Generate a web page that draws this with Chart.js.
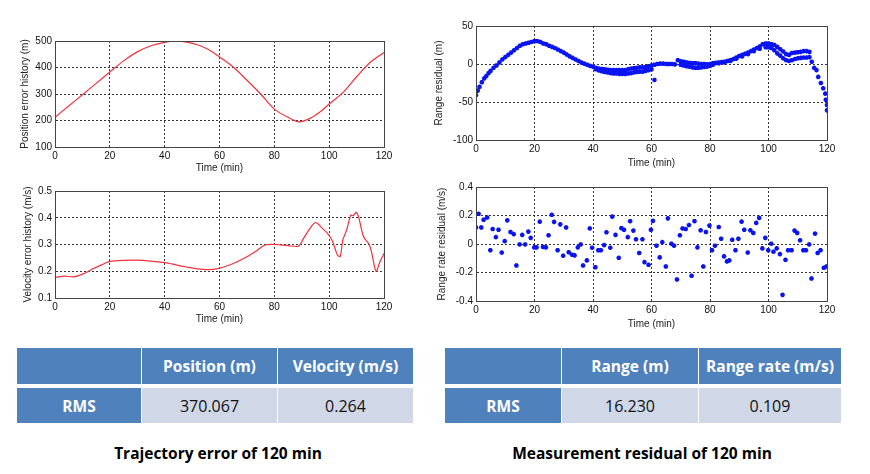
<!DOCTYPE html>
<html>
<head>
<meta charset="utf-8">
<script src="https://cdn.jsdelivr.net/npm/chart.js@4.4.0/dist/chart.umd.min.js"></script>
<style>
  body { margin: 0; background: #fff; width: 870px; height: 474px; position: relative; overflow: hidden; font-family: "Open Sans", "Noto Sans", sans-serif; }
  .plot { position: absolute; }
  .cell { position: absolute; display: flex; align-items: center; justify-content: center; }
  .hd { background: #4f81bd; color: #fff; font-weight: bold; font-size: 15.5px; }
  .dt { background: #d0d8e8; color: #111; font-size: 16px; }
  .cap { position: absolute; font-weight: bold; font-size: 15.5px; color: #000; text-align: center; }
</style>
</head>
<body>
<div class="plot" id="w1"><canvas id="c1"></canvas></div>
<div class="plot" id="w2"><canvas id="c2"></canvas></div>
<div class="plot" id="w3"><canvas id="c3"></canvas></div>
<div class="plot" id="w4"><canvas id="c4"></canvas></div>

<div id="t1"></div>
<div id="t2"></div>
<div class="cap" style="left:18px; width:400px; top:442px;">Trajectory error of 120 min</div>
<div class="cap" style="left:442px; width:400px; top:442px;">Measurement residual of 120 min</div>

<script>
// --- veriler ---
const xTicks = [0, 20, 40, 60, 80, 100, 120];

// konum hatası (m)
const posTime = [0, 5, 10, 15, 20, 25, 30, 35, 40, 44, 48, 52, 56, 60, 65, 70, 75, 80, 85, 89, 93, 97, 100, 105, 110, 115, 120];
const posErr  = [212, 255, 297, 340, 383, 425, 459, 482, 495, 500, 496, 486, 468, 440, 402, 352, 300, 243, 212, 195, 208, 235, 262, 305, 365, 420, 457];

// hız hatası (m/s)
const velTime = [0, 2, 3.6, 6.7, 10.3, 14, 17, 20, 25, 32, 40, 48, 54, 59, 65, 70, 74, 76.6, 80, 85, 88.8, 90.6, 93, 94.9, 96.1, 97.5, 99.4, 101, 102, 103, 104, 105, 106.4, 107.9, 108.8, 109.8, 110.7, 112.5, 114.6, 115.5, 117.1, 118.5, 119.8, 120];
const velErr  = [0.177, 0.18, 0.182, 0.179, 0.19, 0.21, 0.224, 0.237, 0.241, 0.241, 0.232, 0.216, 0.207, 0.209, 0.229, 0.254, 0.28, 0.298, 0.3, 0.296, 0.294, 0.322, 0.36, 0.382, 0.376, 0.36, 0.342, 0.317, 0.29, 0.261, 0.255, 0.317, 0.355, 0.41, 0.408, 0.42, 0.404, 0.33, 0.3, 0.27, 0.2, 0.235, 0.262, 0.267];

// mesafe artığı (m)
const rangeTime = [
  0, 0.6, 1.2, 2, 2.8, 3.5, 4.3, 5, 6, 7, 8, 9, 10, 11, 12, 13, 14, 15, 16, 17, 18, 19, 20,
  21, 22, 23, 24, 25, 26, 27, 28, 29, 30, 31, 32, 33, 34, 35, 36, 37, 38, 39, 40,
  41, 42, 43, 44, 45, 46, 47, 48, 49, 50, 51, 52, 53, 54, 55, 56, 57, 58, 59, 60,
  41, 42, 43, 44, 45, 46, 47, 48, 49, 50, 51, 52, 53, 54, 55, 56, 57, 58, 59, 60,
  61, 61, 62, 63, 64, 65, 66, 67, 68,
  69, 70, 71, 72, 73, 74, 75, 76, 77, 78, 79, 80,
  70, 71, 72, 73, 74, 75, 76, 77, 78, 79, 80,
  81, 82, 83, 84, 85, 86, 87, 88, 89, 90, 91, 92, 93, 94, 95, 96, 97, 98, 99, 100,
  101, 102, 103, 104, 105, 106, 107, 108, 109, 110, 111, 112, 113, 114,
  81, 83, 85, 87, 89, 91, 93, 95, 97, 99, 100, 101, 102, 103, 104, 105, 106, 107, 108, 109, 110, 111, 112, 113, 114,
  114.8, 115.6, 116.4, 117, 117.9, 118.7, 119.4, 119.6, 120, 120
];
const rangeRes = [
  -41, -35, -30, -24, -19, -16, -12, -9, -5, -2, 2, 6, 9, 12, 15, 18, 21, 24, 26, 27, 28, 29, 30,
  30, 29, 27, 26, 24, 22.5, 21, 19, 17, 15, 12.5, 10, 8, 6, 4, 2, 0.5, -1, -2.5, -3.5,
  -5, -6, -6.5, -7, -7.5, -8, -8, -8, -8, -8, -8, -7, -6, -5.5, -5, -4.5, -4.5, -4, -3, -2,
  -7, -8.5, -9.5, -10.5, -11, -12, -12.5, -12.5, -13, -13, -13, -12.5, -12, -11, -10.5, -10, -10, -9, -8, -7,
  -21, -1, 0, 0.5, 0.5, 0, 0, 0, -0.5,
  5, 3.5, 3, 2, 1.5, 1, 1, 0.5, 0, 0, -0.5, 0,
  -1, -2, -3, -3.5, -4.5, -5, -5, -4.5, -4, -3.5, -2.5,
  1, 1.5, 2, 2.5, 3, 4, 5, 6.5, 8.5, 10.5, 12, 13.5, 15, 17, 19, 21, 23, 26, 27, 27,
  26, 25, 22.5, 19.5, 16.5, 13, 12, 14.5, 15, 15.5, 16, 17, 17, 16,
  -1, 1, 2, 4, 7, 10, 13, 17, 20, 22, 22, 21, 18, 14, 11, 7.5, 5, 4, 5, 6.5, 7.5, 8, 8.5, 8.5, 9,
  3, -5, -8, -17, -25, -32, -39, -47, -54, -61
];

// mesafe değişim hızı artığı (m/s)
const rateTime = [0, 0.9, 1.8, 2.6, 3.8, 4.9, 5.7, 6.8, 7.7, 8.8, 9.8, 10.7, 11.8, 12.9, 13.8, 14.9, 15.8, 16.8, 17.9, 18.7,
  19.9, 20.7, 21.8, 22.9, 23.9, 24.8, 25.9, 26.7, 27.9, 28.8, 29.8, 30.8, 31.7, 32.8, 33.7, 34.8, 35.8, 36.6, 37.9, 38.9,
  39.7, 40.8, 41.8, 42.7, 43.8, 44.6, 45.9, 46.6, 47.7, 48.8, 49.7, 50.6, 51.9, 52.7, 53.8, 54.7, 55.8, 56.9, 57.6, 59,
  59.8, 60.5, 61.7, 62.8, 63.7, 64.9, 65.6, 66.8, 67.7, 68.7, 69.7, 70.6, 71.7, 72.8, 73.7, 74.7, 75.7, 76.8, 77.7, 78.6,
  79.8, 80.7, 81.7, 83, 83.8, 84.8, 85.8, 86.6, 87.6, 88.7, 89.7, 90.8, 91.7, 92.9, 93.8, 94.8, 95.8, 96.8, 97.9, 98.9,
  99.9, 100.9, 101.7, 102.8, 103.9, 104.8, 105.8, 106.7, 107.9, 108.9, 109.8, 110.8, 111.9, 112.8, 113.9, 114.7, 115.9, 116.8, 117.8, 118.9, 119.8];
const rateRes = [0.116, 0.212, 0.116, 0.17, 0.186, -0.044, 0.105, 0.048, 0.1, -0.06, 0.02, 0.166, 0.084, 0.069, -0.151, -0.003, 0.064, -0.003, 0.087, 0.043,
  -0.024, -0.024, 0.157, -0.02, -0.024, 0.061, 0.205, 0.155, -0.044, 0.138, -0.082, 0.116, -0.058, -0.075, -0.08, -0.024, -0.003, -0.151, -0.115, 0.109,
  -0.026, -0.163, -0.044, -0.044, -0.008, 0.082, -0.026, 0.192, 0.064, -0.097, 0.111, 0.1, 0.048, 0.16, 0.094, 0.033, -0.063, 0.033, -0.127, -0.146,
  0.1, 0.162, -0.012, -0.094, 0.013, -0.158, 0.18, 0.002, -0.012, -0.249, 0.061, 0.109, 0.105, 0.133, -0.223, 0.16, -0.024, 0.096, -0.158, 0.084,
  0.129, -0.044, -0.012, 0.119, 0.037, -0.087, -0.122, -0.115, 0.03, -0.044, 0.037, 0.157, 0.1, -0.06, 0.096, 0.077, 0.148, 0.183, -0.031, 0.043,
  -0.044, 0.002, -0.054, -0.031, -0.071, -0.357, -0.111, -0.044, -0.044, 0.094, 0.077, 0.026, -0.044, -0.044, -0.003, -0.242, 0.073, -0.063, -0.044, -0.167, -0.158];

// tablolar
const leftHeaders = ['', 'Position (m)', 'Velocity (m/s)'];
const leftValues = ['RMS', '370.067', '0.264'];
const rightHeaders = ['', 'Range (m)', 'Range rate (m/s)'];
const rightValues = ['RMS', '16.230', '0.109'];

function pts(xs, ys) {
  return xs.map((x, i) => ({ x: x, y: ys[i] }));
}

// MATLAB tarzı çerçeve
const boxPlugin = {
  id: 'box',
  afterDraw(chart) {
    const a = chart.chartArea, ctx = chart.ctx;
    ctx.save();
    ctx.strokeStyle = '#444';
    ctx.lineWidth = 1;
    ctx.strokeRect(Math.round(a.left) + 0.5, Math.round(a.top) + 0.5, Math.round(a.right - a.left), Math.round(a.bottom - a.top));
    ctx.restore();
  }
};

const tickFont = { family: '"Liberation Sans", Arial, sans-serif', size: 10 };

// p: çizim alanı sayfa koordinatları, ty: y başlık merkezi, bx: x başlık merkezi
function makeChart(n, datasets, yOpt, p) {
  const cl = p.ty - 8, ct = p.top - 10, cr = p.right + 14, cb = p.bx + 8;
  const w = document.getElementById('w' + n);
  w.style.left = cl + 'px'; w.style.top = ct + 'px';
  w.style.width = (cr - cl) + 'px'; w.style.height = (cb - ct) + 'px';

  new Chart(document.getElementById('c' + n), {
    type: 'scatter',
    data: { datasets: datasets },
    options: {
      responsive: true,
      maintainAspectRatio: false,
      animation: false,
      layout: { padding: { top: p.top - ct, right: cr - p.right, left: 0, bottom: 0 } },
      plugins: { legend: { display: false }, tooltip: { enabled: false } },
      scales: {
        x: {
          type: 'linear', min: 0, max: 120,
          afterBuildTicks: s => { s.ticks = xTicks.map(v => ({ value: v })); },
          afterFit: s => { s.height = cb - p.bottom; },
          ticks: { font: tickFont, color: '#111', padding: 3, maxRotation: 0 },
          grid: { color: '#000', lineWidth: 0.8, drawTicks: false },
          border: { color: '#444', dash: [2, 2] },
          title: { display: true, text: 'Time (min)', font: tickFont, color: '#222', padding: { top: 0, bottom: 2 } }
        },
        y: {
          min: yOpt.min, max: yOpt.max,
          ticks: { stepSize: yOpt.step, font: tickFont, color: '#111', padding: 3 },
          afterFit: s => { s.width = p.left - cl; },
          grid: { color: '#000', lineWidth: 0.8, drawTicks: false },
          border: { color: '#444', dash: [2, 2] },
          title: { display: true, text: yOpt.title, font: tickFont, color: '#222', padding: { top: 2, bottom: 0 } }
        }
      }
    },
    plugins: [boxPlugin]
  });
}

const lineStyle = { showLine: true, borderColor: '#f0323c', borderWidth: 1.2, pointRadius: 0, tension: 0.3 };
const dotStyle = { pointStyle: 'star', pointRadius: 2.3, borderWidth: 1.5, borderColor: '#0a14f0', backgroundColor: '#0a14f0', showLine: false };

makeChart(1, [Object.assign({ data: pts(posTime, posErr) }, lineStyle)],
  { min: 100, max: 500, step: 100, title: 'Position error history (m)' },
  { left: 55, right: 384, top: 41, bottom: 147, ty: 25, bx: 168 });

makeChart(2, [Object.assign({ data: pts(velTime, velErr) }, lineStyle)],
  { min: 0.1, max: 0.5, step: 0.1, title: 'Velocity error history (m/s)' },
  { left: 55, right: 384, top: 191, bottom: 298, ty: 28, bx: 319 });

makeChart(3, [Object.assign({ data: pts(rangeTime, rangeRes) }, dotStyle)],
  { min: -100, max: 50, step: 50, title: 'Range residual (m)' },
  { left: 476, right: 827, top: 26, bottom: 140, ty: 439, bx: 163 });

makeChart(4, [Object.assign({ data: pts(rateTime, rateRes) }, dotStyle)],
  { min: -0.4, max: 0.4, step: 0.2, title: 'Range rate residual (m/s)' },
  { left: 476, right: 827, top: 187, bottom: 301, ty: 442, bx: 324 });

// tabloları çiz
function makeTable(id, cols, headers, values) {
  const t = document.getElementById(id);
  let html = '';
  for (let i = 0; i < 3; i++) {
    const l = cols[i], wd = cols[i + 1] - cols[i] - (i < 2 ? 1 : 0);
    html += '<div class="cell hd" style="left:' + l + 'px;top:348px;width:' + wd + 'px;height:36px">' + headers[i] + '</div>';
    html += '<div class="cell ' + (i === 0 ? 'hd' : 'dt') + '" style="left:' + l + 'px;top:388px;width:' + wd + 'px;height:35px">' + values[i] + '</div>';
  }
  t.innerHTML = html;
}
makeTable('t1', [17, 142, 278, 413], leftHeaders, leftValues);
makeTable('t2', [445, 562, 699, 841], rightHeaders, rightValues);
</script>
</body>
</html>
